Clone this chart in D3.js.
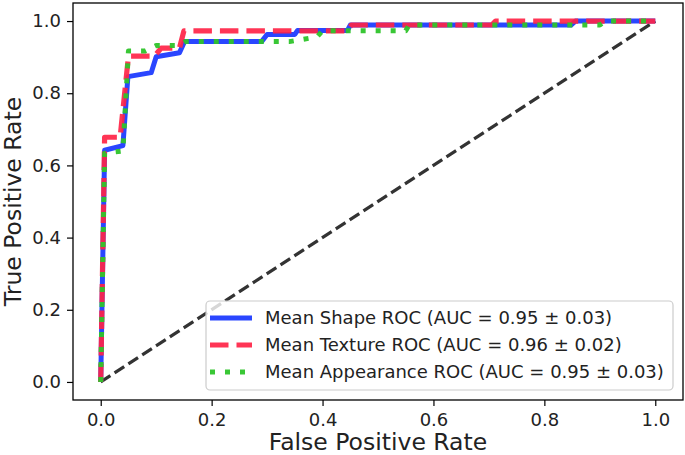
<!DOCTYPE html>
<html><head><meta charset="utf-8">
<script src="https://cdn.jsdelivr.net/npm/d3@7"></script>
<style>
html,body{margin:0;padding:0;background:#fff;}
svg{display:block;font-family:"DejaVu Sans",sans-serif;}
</style></head>
<body>
<svg id="chart" width="685" height="455"></svg>
<script>
// ---- data ----
const shapeFPR = [0, 0.007, 0.04, 0.049, 0.091, 0.10, 0.142, 0.151, 0.29, 0.30, 0.35, 0.355, 0.445, 0.45, 0.848, 0.856, 1.0];
const shapeTPR = [0, 0.642, 0.655, 0.846, 0.857, 0.901, 0.912, 0.943, 0.943, 0.963, 0.963, 0.974, 0.974, 0.989, 0.989, 1.0, 1.0];

const textureFPR = [0, 0.007, 0.035, 0.05, 0.097, 0.109, 0.142, 0.15, 0.445, 0.452, 0.705, 0.712, 1.0];
const textureTPR = [0, 0.678, 0.678, 0.903, 0.903, 0.925, 0.925, 0.973, 0.973, 0.989, 0.989, 1.0, 1.0];

const appearanceFPR = [0, 0.007, 0.04, 0.05, 0.08, 0.10, 0.14, 0.153, 0.34, 0.39, 0.40, 0.55, 0.556, 0.90, 0.91, 1.0];
const appearanceTPR = [0, 0.634, 0.64, 0.917, 0.917, 0.932, 0.932, 0.943, 0.943, 0.956, 0.973, 0.973, 0.989, 0.989, 1.0, 1.0];

const chanceFPR = [0, 1];
const chanceTPR = [0, 1];

const seriesNames = ["Mean Shape ROC (AUC = 0.95 \u00b1 0.03)",
                     "Mean Texture ROC (AUC = 0.96 \u00b1 0.02)",
                     "Mean Appearance ROC (AUC = 0.95 \u00b1 0.03)"];
const tickValues = [0.0, 0.2, 0.4, 0.6, 0.8, 1.0];
const xLabel = "False Positive Rate";
const yLabel = "True Positive Rate";

// ---- layout ----
const svg = d3.select("#chart");
const frame = {left: 73, right: 683, top: 3, bottom: 400};
const x = d3.scaleLinear().domain([-0.05, 1.05]).range([frame.left, frame.right]);
const y = d3.scaleLinear().domain([-0.05, 1.05]).range([frame.bottom, frame.top]);

const styles = [
  {color: "#1f3cff", dash: null, width: 5, opacity: 0.95},
  {color: "#ff2447", dash: "18.5,8", width: 5.2, opacity: 0.92},
  {color: "#2ec42a", dash: "5,10", width: 5, opacity: 0.95}
];
const series = [
  {fpr: shapeFPR, tpr: shapeTPR},
  {fpr: textureFPR, tpr: textureTPR},
  {fpr: appearanceFPR, tpr: appearanceTPR}
];

const line = d3.line().x(d => x(d[0])).y(d => y(d[1]));

const plot = svg.append("g");
const clipId = "clipArea";
svg.append("defs").append("clipPath").attr("id", clipId)
  .append("rect").attr("x", frame.left).attr("y", frame.top)
  .attr("width", frame.right - frame.left).attr("height", frame.bottom - frame.top);

const lines = plot.append("g").attr("clip-path", `url(#${clipId})`);

// chance diagonal
lines.append("path")
  .attr("d", line(chanceFPR.map((v, i) => [v, chanceTPR[i]])))
  .attr("fill", "none").attr("stroke", "#333").attr("stroke-width", 3.2)
  .attr("stroke-dasharray", "11.5,5");

series.forEach((s, i) => {
  const st = styles[i];
  lines.append("path")
    .attr("d", line(s.fpr.map((v, j) => [v, s.tpr[j]])))
    .attr("fill", "none").attr("stroke", st.color)
    .attr("stroke-width", st.width).attr("stroke-opacity", st.opacity)
    .attr("stroke-dasharray", st.dash)
    .attr("stroke-linejoin", "round");
});

// axes
const xAxis = d3.axisBottom(x).tickValues(tickValues).tickFormat(d3.format(".1f")).tickSize(6).tickPadding(7);
const yAxis = d3.axisLeft(y).tickValues(tickValues).tickFormat(d3.format(".1f")).tickSize(6).tickPadding(6);

const gx = svg.append("g").attr("transform", `translate(0,${frame.bottom})`).call(xAxis);
const gy = svg.append("g").attr("transform", `translate(${frame.left},0)`).call(yAxis);
[gx, gy].forEach(g => {
  g.select(".domain").remove();
  g.selectAll(".tick line").attr("stroke", "#000").attr("stroke-width", 1.2);
  g.selectAll(".tick text").attr("fill", "#222").style("font-size", "18px")
    .style("font-family", "'DejaVu Sans', sans-serif");
});

// frame
svg.append("rect").attr("x", frame.left).attr("y", frame.top)
  .attr("width", frame.right - frame.left).attr("height", frame.bottom - frame.top)
  .attr("fill", "none").attr("stroke", "#000").attr("stroke-width", 1.3);

// axis labels
svg.append("text").attr("x", (frame.left + frame.right) / 2).attr("y", 450)
  .attr("text-anchor", "middle").style("font-size", "23.5px").attr("fill", "#222")
  .text(xLabel);
svg.append("text").attr("transform", `translate(21,${(frame.top + frame.bottom) / 2}) rotate(-90)`)
  .attr("text-anchor", "middle").style("font-size", "23.5px").attr("fill", "#222")
  .text(yLabel);

// legend
const leg = svg.append("g");
leg.append("rect").attr("x", 206).attr("y", 301).attr("width", 467).attr("height", 89)
  .attr("rx", 4).attr("fill", "#fff").attr("fill-opacity", 0.8)
  .attr("stroke", "#ccc").attr("stroke-width", 1.2);
const rowY = [318, 345, 372];
seriesNames.forEach((name, i) => {
  const st = styles[i];
  leg.append("line").attr("x1", 210).attr("x2", 252).attr("y1", rowY[i]).attr("y2", rowY[i])
    .attr("stroke", st.color).attr("stroke-width", st.width).attr("stroke-opacity", st.opacity)
    .attr("stroke-dasharray", st.dash);
  leg.append("text").attr("x", 265).attr("y", rowY[i]).attr("dy", "0.36em")
    .style("font-size", "18px").attr("fill", "#222").text(name);
});
</script>
</body></html>
